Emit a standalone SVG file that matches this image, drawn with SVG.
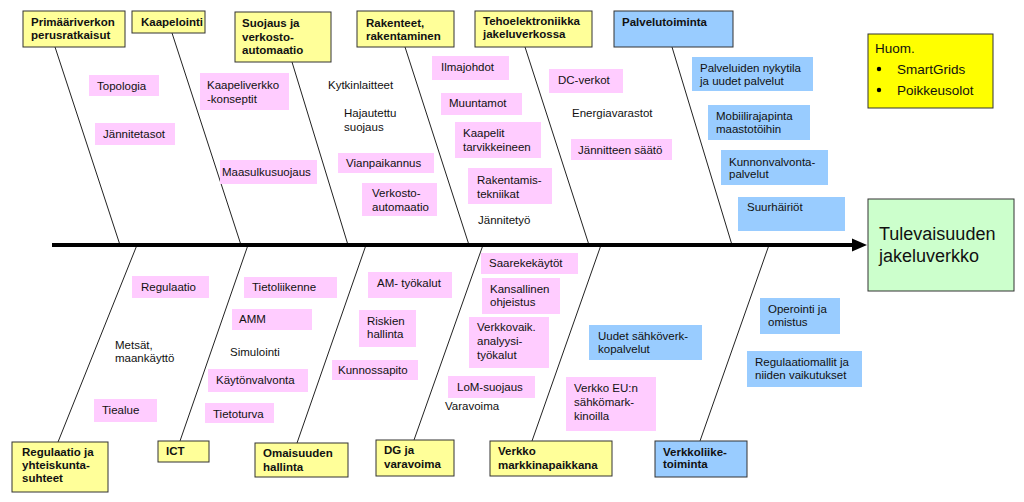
<svg xmlns="http://www.w3.org/2000/svg" width="1024" height="502" viewBox="0 0 1024 502">
<style>
text{font-family:"Liberation Sans",Arial,sans-serif;font-size:11.5px;fill:#111}
.h{font-weight:bold}
.hy{fill:#ffff99;stroke:#333;stroke-width:1}
.hb{fill:#99ccff;stroke:#333;stroke-width:1}
.p{fill:#ffccff}
.b{fill:#99ccff}
.bone{stroke:#222;stroke-width:1;fill:none}
</style>
<rect width="1024" height="502" fill="#fff"/>
<g id="connectors">
<line class="bone" x1="55" y1="47" x2="120" y2="245"/>
<line class="bone" x1="172" y1="33" x2="241" y2="245"/>
<line class="bone" x1="292" y1="62" x2="348" y2="245"/>
<line class="bone" x1="405" y1="47" x2="469" y2="245"/>
<line class="bone" x1="525" y1="47" x2="589" y2="245"/>
<line class="bone" x1="672" y1="47" x2="732" y2="245"/>
<line class="bone" x1="58" y1="442" x2="137" y2="245"/>
<line class="bone" x1="180" y1="441" x2="248" y2="245"/>
<line class="bone" x1="297" y1="443" x2="366" y2="245"/>
<line class="bone" x1="414" y1="440" x2="483" y2="245"/>
<line class="bone" x1="532" y1="441" x2="601" y2="245"/>
<line class="bone" x1="700" y1="441" x2="769" y2="245"/>
<line x1="52" y1="245" x2="855" y2="245" stroke="#000" stroke-width="4"/>
<polygon points="852,238.5 867,245 852,251.5" fill="#000"/>
</g>
<g id="n-primaari"><rect class="hy" x="23" y="11" width="102" height="36"/><text class="h" x="31" y="26">Primääriverkon</text><text class="h" x="31" y="39">perusratkaisut</text></g>
<g id="n-kaapelointi"><rect class="hy" x="132" y="11" width="73" height="22"/><text class="h" x="141" y="26">Kaapelointi</text></g>
<g id="n-suojaus"><rect class="hy" x="235" y="12" width="96" height="50"/><text class="h" x="242" y="27">Suojaus ja</text><text class="h" x="242" y="41">verkosto-</text><text class="h" x="242" y="54">automaatio</text></g>
<g id="n-rakenteet"><rect class="hy" x="357" y="11" width="97" height="36"/><text class="h" x="366" y="27">Rakenteet,</text><text class="h" x="366" y="40">rakentaminen</text></g>
<g id="n-teho"><rect class="hy" x="475" y="11" width="117" height="36"/><text class="h" x="483" y="25">Tehoelektroniikka</text><text class="h" x="483" y="38">jakeluverkossa</text></g>
<g id="n-palvelu"><rect class="hb" x="614" y="11" width="119" height="36"/><text class="h" x="622" y="26">Palvelutoiminta</text></g>
<g id="n-huom"><rect fill="#ffff00" stroke="#333" x="868" y="34" width="125" height="74"/><text x="875" y="53" style="font-size:13.5px">Huom.</text><circle cx="879" cy="69" r="2.2" fill="#000"/><text x="897" y="74" style="font-size:13.5px">SmartGrids</text><circle cx="879" cy="90" r="2.2" fill="#000"/><text x="897" y="95" style="font-size:13.5px">Poikkeusolot</text></g>
<g id="n-main"><rect fill="#ccffcc" stroke="#333" x="868" y="199" width="146" height="92"/><text x="879" y="240" style="font-size:18px">Tulevaisuuden</text><text x="879" y="262" style="font-size:18px">jakeluverkko</text></g>
<g id="n-regulaatio-h"><rect class="hy" x="12" y="442" width="96" height="50"/><text class="h" x="22" y="456">Regulaatio ja</text><text class="h" x="22" y="469">yhteiskunta-</text><text class="h" x="22" y="482">suhteet</text></g>
<g id="n-ict"><rect class="hy" x="158" y="441" width="51" height="21"/><text class="h" x="166" y="455">ICT</text></g>
<g id="n-omaisuus"><rect class="hy" x="255" y="443" width="93" height="34"/><text class="h" x="263" y="457">Omaisuuden</text><text class="h" x="263" y="471">hallinta</text></g>
<g id="n-dg"><rect class="hy" x="376" y="440" width="78" height="36"/><text class="h" x="384" y="454">DG ja</text><text class="h" x="384" y="468">varavoima</text></g>
<g id="n-markkina"><rect class="hy" x="490" y="441" width="122" height="35"/><text class="h" x="498" y="455">Verkko</text><text class="h" x="498" y="469">markkinapaikkana</text></g>
<g id="n-liike"><rect class="hb" x="655" y="441" width="92" height="36"/><text class="h" x="663" y="456">Verkkoliike-</text><text class="h" x="663" y="468">toiminta</text></g>
<g id="l-topologia"><rect class="p" x="89" y="75" width="70" height="21"/><text x="97" y="90">Topologia</text></g>
<g id="l-jannitetasot"><rect class="p" x="95" y="123" width="80" height="22"/><text x="103" y="138">Jännitetasot</text></g>
<g id="l-kaapeliverkko"><rect class="p" x="200" y="73" width="89" height="37"/><text x="207" y="89">Kaapeliverkko</text><text x="207" y="103">-konseptit</text></g>
<g id="l-maasulku"><rect class="p" x="220" y="160" width="97" height="24"/><text x="222" y="176">Maasulkusuojaus</text></g>
<g id="l-kytkin"><text x="328" y="89">Kytkinlaitteet</text></g>
<g id="l-hajautettu"><text x="344" y="117">Hajautettu</text><text x="344" y="131">suojaus</text></g>
<g id="l-vianpaikannus"><rect class="p" x="338" y="153" width="96" height="20"/><text x="346" y="167">Vianpaikannus</text></g>
<g id="l-verkostoautom"><rect class="p" x="362" y="183" width="75" height="33"/><text x="372" y="197">Verkosto-</text><text x="372" y="211">automaatio</text></g>
<g id="l-ilmajohdot"><rect class="p" x="432" y="56" width="77" height="24"/><text x="441" y="71">Ilmajohdot</text></g>
<g id="l-muuntamot"><rect class="p" x="441" y="93" width="81" height="22"/><text x="449" y="107">Muuntamot</text></g>
<g id="l-kaapelit"><rect class="p" x="455" y="122" width="86" height="36"/><text x="463" y="137">Kaapelit</text><text x="463" y="151">tarvikkeineen</text></g>
<g id="l-rakentamis"><rect class="p" x="468" y="168" width="84" height="36"/><text x="477" y="184">Rakentamis-</text><text x="477" y="198">tekniikat</text></g>
<g id="l-jannitetyo"><text x="478" y="224">Jännitetyö</text></g>
<g id="l-dc"><rect class="p" x="549" y="69" width="74" height="24"/><text x="558" y="84">DC-verkot</text></g>
<g id="l-energia"><text x="572" y="117">Energiavarastot</text></g>
<g id="l-saato"><rect class="p" x="571" y="139" width="101" height="21"/><text x="578" y="154">Jännitteen säätö</text></g>
<g id="l-palveluiden"><rect class="b" x="692" y="57" width="121" height="34"/><text x="700" y="72">Palveluiden nykytila</text><text x="700" y="85">ja uudet palvelut</text></g>
<g id="l-mobiili"><rect class="b" x="708" y="105" width="102" height="35"/><text x="716" y="120">Mobiilirajapinta</text><text x="716" y="133">maastotöihin</text></g>
<g id="l-kunnonvalvonta"><rect class="b" x="721" y="150" width="107" height="35"/><text x="729" y="166">Kunnonvalvonta-</text><text x="729" y="178">palvelut</text></g>
<g id="l-suurhairiot"><rect class="b" x="738" y="197" width="107" height="34"/><text x="747" y="211">Suurhäiriöt</text></g>
<g id="l-regulaatio"><rect class="p" x="132" y="276" width="77" height="22"/><text x="141" y="291">Regulaatio</text></g>
<g id="l-metsat"><text x="115" y="349">Metsät,</text><text x="115" y="362">maankäyttö</text></g>
<g id="l-tiealue"><rect class="p" x="94" y="399" width="63" height="23"/><text x="102" y="414">Tiealue</text></g>
<g id="l-tietoliikenne"><rect class="p" x="244" y="277" width="93" height="21"/><text x="252" y="291">Tietoliikenne</text></g>
<g id="l-amm"><rect class="p" x="232" y="309" width="80" height="21"/><text x="239" y="323">AMM</text></g>
<g id="l-simulointi"><text x="230" y="356">Simulointi</text></g>
<g id="l-kaytonvalvonta"><rect class="p" x="208" y="369" width="100" height="23"/><text x="216" y="384">Käytönvalvonta</text></g>
<g id="l-tietoturva"><rect class="p" x="205" y="403" width="69" height="20"/><text x="213" y="418">Tietoturva</text></g>
<g id="l-amtyokalut"><rect class="p" x="368" y="272" width="84" height="26"/><text x="377" y="287">AM- työkalut</text></g>
<g id="l-riskien"><rect class="p" x="359" y="310" width="57" height="37"/><text x="367" y="325">Riskien</text><text x="367" y="338">hallinta</text></g>
<g id="l-kunnossapito"><rect class="p" x="332" y="360" width="86" height="20"/><text x="338" y="374">Kunnossapito</text></g>
<g id="l-saareke"><rect class="p" x="481" y="253" width="97" height="21"/><text x="489" y="267">Saarekekäytöt</text></g>
<g id="l-kansallinen"><rect class="p" x="482" y="278" width="78" height="36"/><text x="490" y="293">Kansallinen</text><text x="490" y="306">ohjeistus</text></g>
<g id="l-verkkovaik"><rect class="p" x="469" y="317" width="80" height="51"/><text x="477" y="331">Verkkovaik.</text><text x="477" y="345">analyysi-</text><text x="477" y="359">työkalut</text></g>
<g id="l-lom"><rect class="p" x="448" y="376" width="87" height="22"/><text x="457" y="391">LoM-suojaus</text></g>
<g id="l-varavoima"><text x="445" y="410">Varavoima</text></g>
<g id="l-verkkoeu"><rect class="p" x="566" y="377" width="90" height="54"/><text x="574" y="392">Verkko EU:n</text><text x="574" y="406">sähkömark-</text><text x="574" y="420">kinoilla</text></g>
<g id="l-uudet"><rect class="b" x="589" y="325" width="113" height="35"/><text x="598" y="340">Uudet sähköverk-</text><text x="598" y="353">kopalvelut</text></g>
<g id="l-operointi"><rect class="b" x="760" y="298" width="80" height="36"/><text x="768" y="313">Operointi ja</text><text x="768" y="326">omistus</text></g>
<g id="l-regmallit"><rect class="b" x="747" y="351" width="115" height="36"/><text x="755" y="366">Regulaatiomallit ja</text><text x="755" y="379">niiden vaikutukset</text></g>
</svg>
